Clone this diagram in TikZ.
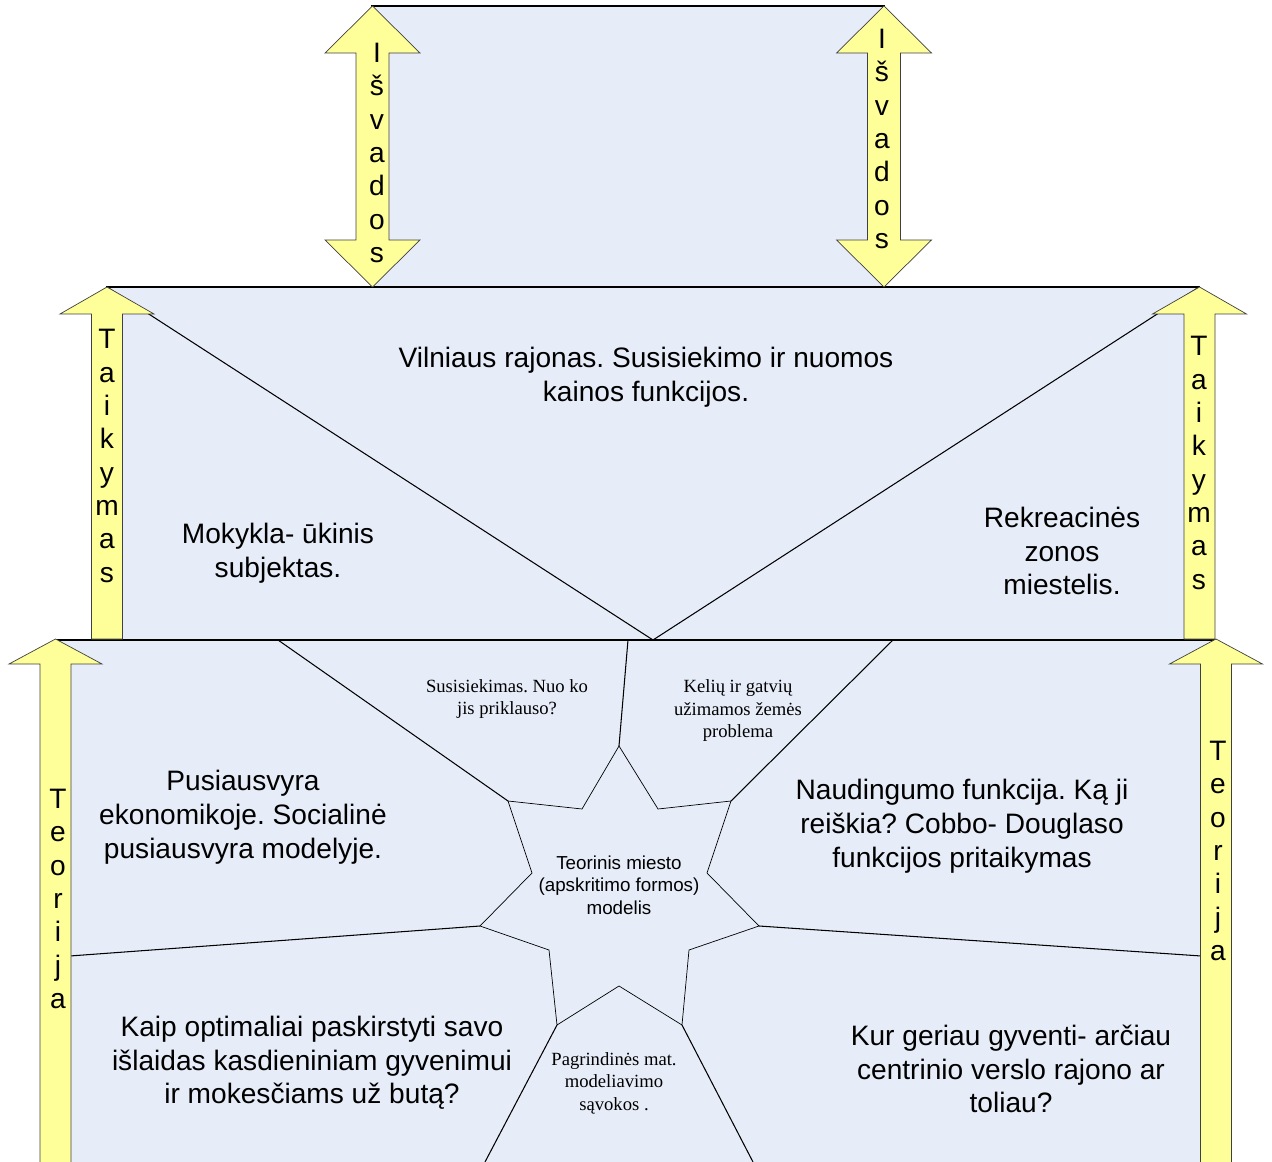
\documentclass[tikz,border=0pt]{standalone}
\usepackage{fontspec}
\setmainfont{Liberation Serif}
\setsansfont{Liberation Sans}
\usetikzlibrary{calc}
\frenchspacing

\definecolor{cellblue}{HTML}{E7EDF8}
\definecolor{arrowyellow}{HTML}{FFFF99}

\tikzset{
  panel/.style={draw=black, fill=cellblue, line width=0.6pt},
  divider/.style={draw=black, line width=0.6pt},
  starline/.style={draw=black, line width=0.4pt},
  bigarrow/.style={draw=black!75, fill=arrowyellow, line width=0.4pt},
  maintext/.style={font=\sffamily\fontsize{16}{19.2}\selectfont, align=center},
  startext/.style={font=\sffamily\fontsize{10.7}{12.8}\selectfont, align=center},
  serifnote/.style={font=\rmfamily\fontsize{10.6}{12.8}\selectfont, align=center},
  letters/.style={font=\sffamily\fontsize{16}{19}\selectfont, align=center, inner sep=0pt}
}

\begin{document}
\begin{tikzpicture}[x=0.02cm, y=-0.02cm]
                \useasboundingbox (0,0) rectangle (1272,1162);

                % panels
                \draw[panel] (372,6) rectangle (884,287);
                \draw[panel] (107,287) rectangle (1199,640);
                \fill[cellblue] (56,640) rectangle (1216,1162);
                \draw[line width=0.6pt] (56,1162) -- (56,640) -- (1216,640) -- (1216,1162);

                % middle panel
                \coordinate (mL) at (107,287);
                \coordinate (mR) at (1199,287);
                \coordinate (mB) at (653,640);
                \draw[divider] (mL) -- (mB) -- (mR);

                % star
                \foreach \p/\xy in {1/{619,746}, 2/{658,809}, 3/{731,801}, 4/{707,873},
                                    5/{759,926}, 6/{689,950}, 7/{682,1025}, 8/{619,986},
                                    9/{557,1025}, 10/{549,950}, 11/{480,926}, 12/{532,873},
                                    13/{508,801}, 14/{582,809}} {
                  \coordinate (s\p) at (\xy);
                }
                \draw[starline] (s1) -- (s2) -- (s3) -- (s4) -- (s5) -- (s6) -- (s7)
                  -- (s8) -- (s9) -- (s10) -- (s11) -- (s12) -- (s13) -- (s14) -- cycle;

                % dividers of the lower panel
                \coordinate (eT) at (628,640);
                \coordinate (eTL) at (278,640);
                \coordinate (eTR) at (893,640);
                \coordinate (eL) at (56,957);
                \coordinate (eR) at (1216,957);
                \coordinate (eBL) at (485,1162);
                \coordinate (eBR) at (753,1162);
                \draw[divider] (eT) -- (s1);
                \draw[divider] (eTL) -- (s13);
                \draw[divider] (eTR) -- (s3);
                \draw[divider] (eL) -- (s11);
                \draw[divider] (eR) -- (s5);
                \draw[divider] (eBL) -- (s9);
                \draw[divider] (eBR) -- (s7);

                % texts
                \node[maintext] (vilnius) at (646,377) {Vilniaus rajonas. Susisiekimo ir nuomos\\kainos funkcijos.};
                \node[maintext] (mokykla) at (278,553) {Mokykla- ūkinis\\subjektas.};
                \node[maintext] (rekreac) at (1062,551) {Rekreacinės\\zonos\\miestelis.};
                \node[maintext] (pusiaus) at (243,817) {Pusiausvyra\\ekonomikoje. Socialinė\\pusiausvyra modelyje.};
                \node[maintext] (nauding) at (962,826) {Naudingumo funkcija. Ką ji\\reiškia? Cobbo- Douglaso\\funkcijos pritaikymas};
                \node[maintext] (islaidos) at (312,1063) {Kaip optimaliai paskirstyti savo\\išlaidas kasdieniniam gyvenimui\\ir mokesčiams už butą?};
                \node[maintext] (gyventi) at (1011,1069) {Kur geriau gyventi- arčiau\\centrinio verslo rajono ar\\toliau?};
                \node[startext] (modelis) at (619,885) {Teorinis miesto\\(apskritimo formos)\\modelis};
                \node[serifnote] (susisiek) at (507,699) {Susisiekimas. Nuo ko\\jis priklauso?};
                \node[serifnote] (keliai) at (738,711) {Kelių ir gatvių\\užimamos žemės\\problema};
                \node[serifnote] (savokos) at (614,1083) {Pagrindinės mat.\\modeliavimo\\sąvokos .};

                % arrows: Išvados
                \foreach \c in {372.5, 884} {
                  \draw[bigarrow] (\c,6) -- (\c+47.5,53) -- (\c+16.5,53) -- (\c+16.5,240)
                    -- (\c+47.5,240) -- (\c,287) -- (\c-47.5,240) -- (\c-16.5,240)
                    -- (\c-16.5,53) -- (\c-47.5,53) -- cycle;
                }
                % arrows: Taikymas
                \foreach \c in {107, 1199.5} {
                  \draw[bigarrow] (\c,287) -- (\c+47,314) -- (\c+15.5,314) -- (\c+15.5,639)
                    -- (\c-15.5,639) -- (\c-15.5,314) -- (\c-47,314) -- cycle;
                }
                % arrows: Teorija
                \foreach \c in {55.5, 1216} {
                  \draw[bigarrow] (\c,639) -- (\c+46.5,664) -- (\c+15.5,664) -- (\c+15.5,1175)
                    -- (\c-15.5,1175) -- (\c-15.5,664) -- (\c-46.5,664) -- cycle;
                }

                \node[letters] (isvL) at (377,153) {I\\š\\v\\a\\d\\o\\s};
                \node[letters] (isvR) at (882,139) {I\\š\\v\\a\\d\\o\\s};
                \node[letters] (taikL) at (107,456) {T\\a\\i\\k\\y\\m\\a\\s};
                \node[letters] (taikR) at (1199,463) {T\\a\\i\\k\\y\\m\\a\\s};
                \node[letters] (teorL) at (58,899) {T\\e\\o\\r\\i\\j\\a};
                \node[letters] (teorR) at (1218,851) {T\\e\\o\\r\\i\\j\\a};
              \end{tikzpicture}
\end{document}
